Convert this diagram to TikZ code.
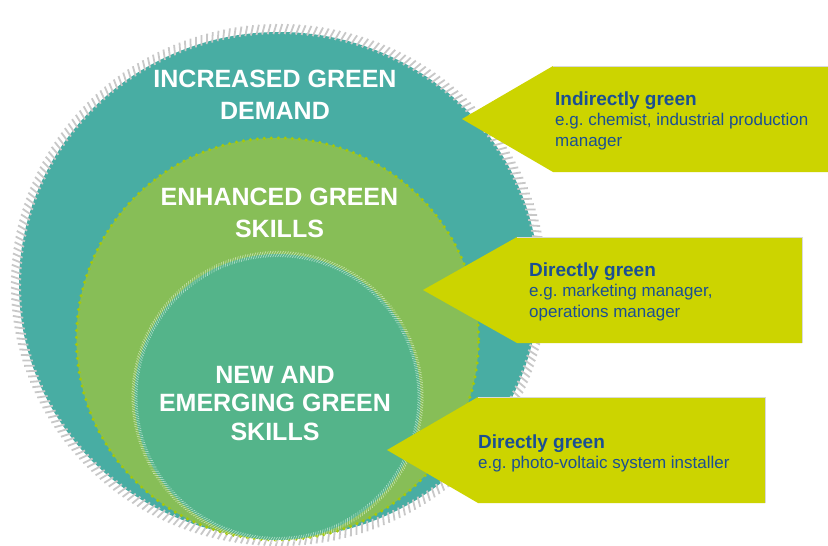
\documentclass[tikz,border=0pt]{standalone}
\usepackage{fontspec}
\setmainfont{Liberation Sans}
\frenchspacing
\definecolor{outerteal}{RGB}{72,173,163}
\definecolor{ringgreen}{RGB}{135,190,87}
\definecolor{innergreen}{RGB}{84,180,138}
\definecolor{arrowyellow}{RGB}{204,212,0}
\definecolor{dotgreen}{RGB}{165,200,10}
\definecolor{textblue}{RGB}{27,79,147}
\definecolor{tickgray}{RGB}{200,200,200}
\begin{document}
\begin{tikzpicture}[x=1pt,y=-1pt,
  titletext/.style={text=white,font=\fontsize{25}{32}\selectfont\bfseries,align=center,inner sep=0pt},
  boxtext/.style={text=textblue,font=\fontsize{17}{20.5}\selectfont\frenchspacing,align=left,inner sep=0pt},
  pointer/.style={fill=arrowyellow,draw=none}]
\useasboundingbox (0,0) rectangle (828,546);
\clip (0,0) rectangle (828,546);
\fill[white] (0,0) rectangle (828,546);
% outer circle
\fill[outerteal] (279,285) ellipse [x radius=260, y radius=253];
\begin{scope}[shift={(279,285)}]
  \foreach \a in {0,1.25,...,358.8}
    \draw[tickgray,line width=1.8pt] (\a:258 and 251) -- ({\a+0.7}:268 and 261);
\end{scope}
% middle circle
\fill[ringgreen] (277.5,339) circle[radius=201pt];
\draw[dotgreen,line width=3.5pt,line cap=round,dash pattern=on 0pt off 7pt] (277.5,339) circle[radius=201pt];
% inner circle
\fill[innergreen] (277.5,397) circle[radius=143pt];
\begin{scope}[shift={(277.5,397)}]
  \foreach \a in {0,1,...,359}
    \draw[white,opacity=0.55,line width=0.6pt] (\a:140) -- ({\a+1.4}:146);
\end{scope}
% titles (anchor = baseline of last line)
\node[titletext,anchor=base] (t1) at (275,119) {INCREASED GREEN\\DEMAND};
\node[titletext,anchor=base] (t2) at (279.5,237) {ENHANCED GREEN\\SKILLS};
\node[titletext,anchor=base,font=\fontsize{25}{28.5}\selectfont\bfseries] (t3) at (275,440) {NEW AND\\EMERGING GREEN\\SKILLS};
% pointers
\fill[pointer] (462,119) -- (553,66) -- (828,66) -- (828,172) -- (553,172) -- cycle;
\fill[pointer] (423,290) -- (517,237) -- (802,237) -- (802,343) -- (517,343) -- cycle;
\fill[pointer] (387,450) -- (478,397) -- (765,397) -- (765,503) -- (478,503) -- cycle;
\draw[black!15,line width=0.6pt] (553,66) -- (828,66);
\draw[black!15,line width=0.6pt] (517,237) -- (802,237) -- (802,343);
\draw[black!15,line width=0.6pt] (478,397) -- (765,397) -- (765,503);
% pointer texts (anchor = baseline of last line)
\node[boxtext,anchor=base west] (b1) at (555,146) {{\fontsize{19}{20.5}\selectfont\bfseries Indirectly green}\\e.g. chemist, industrial production\\manager};
\node[boxtext,anchor=base west] (b2) at (529,317) {{\fontsize{19}{20.5}\selectfont\bfseries Directly green}\\e.g. marketing manager,\\operations manager};
\node[boxtext,anchor=base west] (b3) at (478,468.5) {{\fontsize{19}{21.5}\selectfont\bfseries Directly green}\\e.g. photo-voltaic system installer};
\end{tikzpicture}
\end{document}
